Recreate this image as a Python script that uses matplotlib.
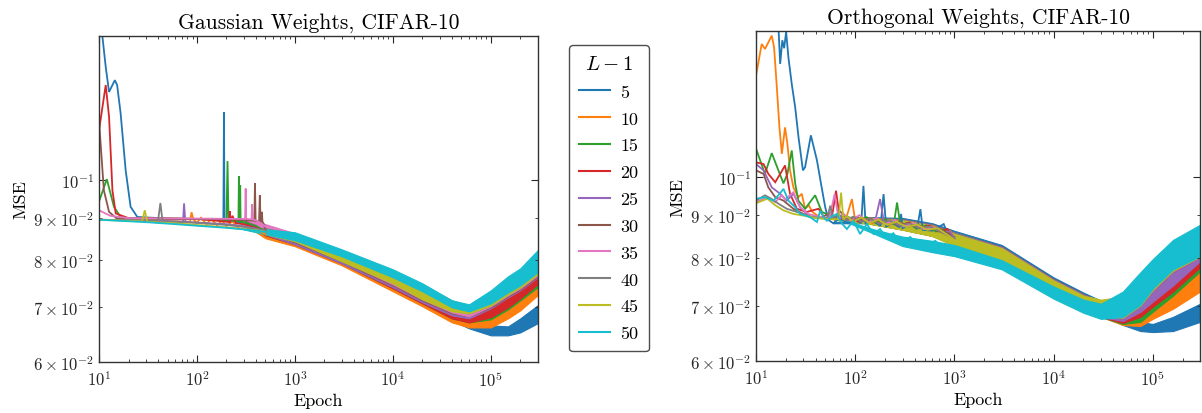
import matplotlib
matplotlib.use("Agg")
import matplotlib.pyplot as plt
from matplotlib.lines import Line2D

plt.rcParams['font.family'] = ['cmr10', 'DejaVu Serif']
plt.rcParams['mathtext.fontset'] = 'cm'
plt.rcParams['axes.formatter.use_mathtext'] = True
plt.rcParams['axes.unicode_minus'] = False

depths = [5, 10, 15, 20, 25, 30, 35, 40, 45, 50]
colors = ['#1f77b4', '#ff7f0e', '#2ca02c', '#d62728', '#9467bd',
          '#8c564b', '#e377c2', '#7f7f7f', '#bcbd22', '#17becf']

# ---------------- Gaussian weights: early (line) part, epochs 10..500 ----------------
gauss_early_ep = [
    [10, 10.8, 11.7, 12.65, 14.5, 15.3, 16.6, 18.7, 21.0, 24.6, 50, 100, 180, 186, 188.6, 191, 195, 300, 500],
    [10, 30, 60, 85, 88, 92, 100, 110, 125, 140, 160, 180, 200, 230, 260, 300, 400, 500],
    [10, 12.0, 14.2, 16.6, 20, 50, 100, 180, 200, 205, 210, 240, 265, 268, 271, 274, 276, 279, 300, 400, 500],
    [10, 11.7, 12.65, 13.7, 14.8, 20, 50, 100, 150, 200, 214, 216, 218, 230, 250, 300, 400, 500],
    [10, 30, 60, 72, 73.8, 76, 100, 200, 300, 400, 500],
    [10, 11.2, 12.65, 15, 30, 100, 200, 300, 385, 391, 397, 430, 438, 446, 455, 460, 466, 480, 500],
    [10, 13, 20, 100, 300, 310, 314, 318, 360, 366, 372, 420, 500],
    [10, 30, 40, 42.3, 44.5, 100, 200, 300, 400, 500],
    [10, 27.5, 29.3, 31, 60, 100, 200, 300, 400, 500],
    [10, 30, 60, 100, 200, 300, 400, 500],
]
gauss_early_mse = [
    [0.175, 0.150, 0.1374, 0.1281, 0.1324, 0.1306, 0.1207, 0.1028, 0.0928, 0.0902, 0.0898, 0.0897, 0.0894, 0.0894, 0.1210, 0.0893, 0.0892, 0.0888, 0.0865],
    [0.0895, 0.0893, 0.0891, 0.0890, 0.0914, 0.0895, 0.0888, 0.0900, 0.0884, 0.0897, 0.0881, 0.0893, 0.0879, 0.0891, 0.0876, 0.0884, 0.0872, 0.0859],
    [0.0942, 0.1003, 0.0928, 0.0902, 0.0899, 0.0898, 0.0897, 0.0895, 0.0894, 0.1055, 0.0893, 0.0892, 0.0892, 0.1011, 0.0891, 0.0891, 0.0986, 0.0890, 0.0889, 0.0880, 0.0865],
    [0.1151, 0.1306, 0.1195, 0.0972, 0.0911, 0.0899, 0.0898, 0.0897, 0.0893, 0.0890, 0.0889, 0.0917, 0.0889, 0.0905, 0.0886, 0.0884, 0.0875, 0.0865],
    [0.0895, 0.0893, 0.0891, 0.0890, 0.0937, 0.0890, 0.0888, 0.0884, 0.0879, 0.0873, 0.0867],
    [0.118, 0.0972, 0.0915, 0.0899, 0.0898, 0.0897, 0.0896, 0.0894, 0.0893, 0.0992, 0.0892, 0.0891, 0.0959, 0.0890, 0.0890, 0.0915, 0.0890, 0.0885, 0.0871],
    [0.0919, 0.0905, 0.0899, 0.0898, 0.0897, 0.0897, 0.0977, 0.0897, 0.0896, 0.0935, 0.0896, 0.0891, 0.0878],
    [0.0895, 0.0893, 0.0892, 0.0938, 0.0891, 0.0887, 0.0882, 0.0877, 0.0872, 0.0868],
    [0.0895, 0.0891, 0.0919, 0.0890, 0.0886, 0.0882, 0.0876, 0.0872, 0.0869, 0.0865],
    [0.0895, 0.0889, 0.0884, 0.0880, 0.0875, 0.0871, 0.0868, 0.0865],
]

# ---------------- Gaussian weights: noisy band part (lower / upper envelope) ----------------
gauss_band_ep = [300, 500, 1000, 3000, 1e4, 2e4, 4e4, 6e4, 1e5, 1.5e5, 2e5, 3e5]
gauss_band_hi = [
    [0.0888, 0.08739, 0.08545, 0.08146, 0.07658, 0.07301, 0.06922, 0.06787, 0.06654, 0.06636, 0.06787, 0.07039],
    [0.0884, 0.08690, 0.08497, 0.08100, 0.07615, 0.07281, 0.06883, 0.06787, 0.06883, 0.07079, 0.07260, 0.07551],
    [0.0889, 0.08739, 0.08545, 0.08146, 0.07680, 0.07342, 0.06961, 0.06902, 0.07039, 0.07260, 0.07425, 0.07723],
    [0.0884, 0.08739, 0.08545, 0.08146, 0.07680, 0.07342, 0.06961, 0.06902, 0.07079, 0.07301, 0.07467, 0.07766],
    [0.0879, 0.08739, 0.08569, 0.08169, 0.07701, 0.07363, 0.07020, 0.06961, 0.07220, 0.07509, 0.07680, 0.08169],
    [0.0894, 0.08788, 0.08593, 0.08192, 0.07723, 0.07405, 0.07059, 0.07000, 0.07260, 0.07551, 0.07723, 0.08169],
    [0.0897, 0.08840, 0.08617, 0.08192, 0.07723, 0.07405, 0.07059, 0.07000, 0.07240, 0.07530, 0.07701, 0.08078],
    [0.0877, 0.08739, 0.08593, 0.08192, 0.07744, 0.07467, 0.07139, 0.07039, 0.07301, 0.07594, 0.07766, 0.08146],
    [0.0872, 0.08715, 0.08617, 0.08215, 0.07766, 0.07446, 0.07119, 0.07039, 0.07301, 0.07594, 0.07766, 0.08123],
    [0.0871, 0.08715, 0.08641, 0.08238, 0.07788, 0.07488, 0.07139, 0.07059, 0.07342, 0.07637, 0.07810, 0.08215],
]
gauss_band_lo = [
    [0.0888, 0.08569, 0.08378, 0.07943, 0.07384, 0.07059, 0.06749, 0.06599, 0.06471, 0.06471, 0.06525, 0.06693],
    [0.0884, 0.08497, 0.08308, 0.07876, 0.07322, 0.07020, 0.06711, 0.06617, 0.06617, 0.06787, 0.06941, 0.07240],
    [0.0889, 0.08569, 0.08355, 0.07920, 0.07384, 0.07079, 0.06787, 0.06711, 0.06768, 0.06961, 0.07139, 0.07405],
    [0.0884, 0.08569, 0.08355, 0.07920, 0.07384, 0.07079, 0.06787, 0.06711, 0.06806, 0.07000, 0.07179, 0.07467],
    [0.0879, 0.08593, 0.08355, 0.07920, 0.07405, 0.07099, 0.06844, 0.06787, 0.06980, 0.07199, 0.07342, 0.07615],
    [0.0894, 0.08641, 0.08402, 0.07965, 0.07446, 0.07139, 0.06883, 0.06825, 0.07000, 0.07220, 0.07363, 0.07637],
    [0.0897, 0.08715, 0.08425, 0.07987, 0.07467, 0.07159, 0.06902, 0.06825, 0.07020, 0.07240, 0.07384, 0.07658],
    [0.0877, 0.08617, 0.08425, 0.08010, 0.07530, 0.07220, 0.06941, 0.06883, 0.07039, 0.07260, 0.07405, 0.07701],
    [0.0872, 0.08593, 0.08425, 0.07965, 0.07488, 0.07159, 0.06922, 0.06883, 0.07039, 0.07260, 0.07405, 0.07680],
    [0.0871, 0.08593, 0.08449, 0.08078, 0.07615, 0.07322, 0.07000, 0.06922, 0.07079, 0.07301, 0.07446, 0.07723],
]

# ---------------- Orthogonal weights: early (line) part, epochs 10..1000 ----------------
orth_early_ep = [
    [10, 15, 16.8, 17.5, 18.4, 19.2, 20.1, 21.2, 22.9, 24.8, 26.8, 29.7, 31.2, 35.7, 41.1, 45.1, 49.8, 53.8, 60, 70, 85, 100, 115, 121, 127, 150, 180, 193, 205, 240, 280, 290, 300, 360, 420, 454, 480, 600, 780, 850, 1000],
    [10, 11.4, 12.3, 14.4, 15.2, 16.2, 17.2, 18.2, 19.6, 20.7, 22.0, 23.8, 26.7, 28.9, 31.2, 34, 37, 41, 46, 55, 65, 80, 92.6, 100, 120, 150, 180, 220, 270, 330, 400, 500, 620, 760, 900, 1000],
    [10, 12.3, 14.4, 16.8, 18.9, 20.7, 22.9, 24.8, 26.7, 31.2, 39.4, 46.1, 55.9, 65, 80, 100, 130, 160, 200, 245, 264, 285, 340, 420, 520, 650, 800, 1000],
    [10, 11.9, 13.3, 15.6, 17.5, 19.6, 22.0, 25.8, 32.5, 42.6, 49.8, 58, 64, 70, 85, 110, 140, 175, 220, 280, 350, 440, 560, 700, 850, 1000],
    [10, 11.9, 14.4, 17.5, 20.4, 23.8, 27.8, 35.1, 50, 65, 80, 100, 130, 160, 178, 195, 240, 300, 380, 480, 600, 750, 900, 1000],
    [10, 11.9, 13.3, 15.6, 18.9, 23.8, 30.1, 35.1, 45, 55, 62, 70, 85, 105, 130, 170, 210, 270, 340, 430, 550, 700, 850, 1000],
    [10, 13.0, 15.6, 18.2, 19.6, 23.8, 27.8, 33.6, 45, 55, 62, 68, 75, 90, 110, 135, 165, 200, 250, 310, 390, 490, 620, 780, 1000],
    [10, 12.3, 14.4, 16.8, 20.4, 25.8, 35, 45, 52, 56, 60, 68, 80, 95, 115, 140, 175, 220, 280, 350, 440, 560, 720, 1000],
    [10, 13.0, 15.6, 18.9, 23.8, 30, 40, 55, 68, 72, 76, 82, 95, 115, 140, 170, 210, 260, 330, 420, 530, 680, 850, 1000],
    [10, 12.3, 15.0, 16.8, 18.9, 21.2, 24.8, 27.8, 35.1, 41.1, 44.3, 48, 51.8, 58, 65.4, 73, 82.4, 96.1, 112, 131, 153, 178, 210, 242, 284, 358, 454, 642, 810, 1000],
]
orth_early_mse = [
    [0.200, 0.175, 0.152, 0.1369, 0.1462, 0.1430, 0.1497, 0.1394, 0.1295, 0.1214, 0.1117, 0.1019, 0.1028, 0.1123, 0.1048, 0.0983, 0.0920, 0.0888, 0.0880, 0.0893, 0.0880, 0.0888, 0.0880, 0.0976, 0.0880, 0.0885, 0.0874, 0.0954, 0.0872, 0.0880, 0.0870, 0.0903, 0.0868, 0.0878, 0.0866, 0.0915, 0.0864, 0.0862, 0.0878, 0.0856, 0.0847],
    [0.1326, 0.1447, 0.1427, 0.1481, 0.1433, 0.1283, 0.1148, 0.1067, 0.1148, 0.1097, 0.1019, 0.0972, 0.0946, 0.0955, 0.0916, 0.0925, 0.0908, 0.0900, 0.0893, 0.0892, 0.0896, 0.0888, 0.0941, 0.0885, 0.0893, 0.0880, 0.0890, 0.0876, 0.0886, 0.0872, 0.0880, 0.0866, 0.0872, 0.0856, 0.0862, 0.0843],
    [0.1082, 0.1009, 0.1069, 0.1019, 0.0983, 0.1009, 0.1077, 0.0983, 0.0937, 0.0916, 0.0951, 0.0908, 0.0899, 0.0892, 0.0898, 0.0888, 0.0895, 0.0882, 0.0890, 0.0878, 0.0932, 0.0876, 0.0880, 0.0868, 0.0874, 0.0860, 0.0865, 0.0843],
    [0.1042, 0.1037, 0.1009, 0.0986, 0.1009, 0.1033, 0.0955, 0.0916, 0.0908, 0.0916, 0.0891, 0.0892, 0.0963, 0.0890, 0.0894, 0.0884, 0.0892, 0.0880, 0.0886, 0.0874, 0.0882, 0.0868, 0.0874, 0.0860, 0.0866, 0.0843],
    [0.1037, 0.1019, 0.0972, 0.0955, 0.0937, 0.0955, 0.0920, 0.0895, 0.0893, 0.0897, 0.0889, 0.0894, 0.0884, 0.0889, 0.0941, 0.0882, 0.0884, 0.0874, 0.0878, 0.0867, 0.0870, 0.0858, 0.0860, 0.0843],
    [0.1019, 0.1009, 0.0972, 0.0946, 0.0937, 0.0916, 0.0903, 0.0895, 0.0893, 0.0905, 0.0890, 0.0910, 0.0888, 0.0895, 0.0884, 0.0890, 0.0878, 0.0884, 0.0872, 0.0876, 0.0864, 0.0868, 0.0856, 0.0843],
    [0.0933, 0.0946, 0.0933, 0.0951, 0.0940, 0.0959, 0.0920, 0.0903, 0.0895, 0.0893, 0.0954, 0.0890, 0.0905, 0.0886, 0.0900, 0.0882, 0.0893, 0.0878, 0.0888, 0.0872, 0.0880, 0.0866, 0.0870, 0.0856, 0.0843],
    [0.0937, 0.0951, 0.0941, 0.0929, 0.0916, 0.0908, 0.0897, 0.0892, 0.0891, 0.0924, 0.0890, 0.0902, 0.0887, 0.0896, 0.0883, 0.0892, 0.0879, 0.0887, 0.0874, 0.0880, 0.0868, 0.0872, 0.0860, 0.0843],
    [0.0930, 0.0942, 0.0925, 0.0912, 0.0903, 0.0899, 0.0893, 0.0890, 0.0890, 0.0958, 0.0889, 0.0898, 0.0884, 0.0894, 0.0880, 0.0889, 0.0876, 0.0884, 0.0871, 0.0877, 0.0864, 0.0868, 0.0852, 0.0840],
    [0.0942, 0.0946, 0.0937, 0.0951, 0.0968, 0.0937, 0.0920, 0.0903, 0.0895, 0.0883, 0.0911, 0.0895, 0.0886, 0.0897, 0.0903, 0.0880, 0.0866, 0.0886, 0.0854, 0.0878, 0.0854, 0.0866, 0.0843, 0.0856, 0.0833, 0.0847, 0.0824, 0.0838, 0.0815, 0.0816],
]

# ---------------- Orthogonal weights: noisy band part ----------------
orth_band_ep = [60, 150, 300, 600, 1000, 3000, 1e4, 2e4, 3e4, 5e4, 7.5e4, 1e5, 1.6e5, 3e5]
orth_band_hi = [
    [0.0882, 0.0895, 0.0893, 0.0880, 0.08617, 0.08285, 0.07573, 0.07260, 0.07099, 0.06883, 0.06693, 0.06654, 0.06787, 0.07039],
    [0.0893, 0.0893, 0.0889, 0.0876, 0.08569, 0.08238, 0.07530, 0.07220, 0.07079, 0.06883, 0.06980, 0.07179, 0.07509, 0.08010],
    [0.0893, 0.0893, 0.0889, 0.0876, 0.08569, 0.08238, 0.07530, 0.07220, 0.07079, 0.06941, 0.07139, 0.07384, 0.07701, 0.08192],
    [0.0893, 0.0893, 0.0889, 0.0876, 0.08569, 0.08238, 0.07530, 0.07220, 0.07079, 0.06980, 0.07281, 0.07551, 0.07854, 0.08308],
    [0.0893, 0.0893, 0.0889, 0.0876, 0.08569, 0.08238, 0.07530, 0.07220, 0.07079, 0.07059, 0.07446, 0.07637, 0.08010, 0.08425],
    [0.0893, 0.0893, 0.0888, 0.0875, 0.08569, 0.08215, 0.07509, 0.07199, 0.07059, 0.07059, 0.07467, 0.07701, 0.08078, 0.08473],
    [0.0893, 0.0893, 0.0888, 0.0875, 0.08569, 0.08215, 0.07509, 0.07199, 0.07059, 0.07079, 0.07488, 0.07744, 0.08123, 0.08521],
    [0.0893, 0.0893, 0.0888, 0.0875, 0.08569, 0.08215, 0.07509, 0.07199, 0.07079, 0.07099, 0.07509, 0.07788, 0.08192, 0.08617],
    [0.0891, 0.0892, 0.0887, 0.0874, 0.08545, 0.08215, 0.07509, 0.07199, 0.07119, 0.07179, 0.07573, 0.07876, 0.08285, 0.08715],
    [0.0897, 0.0866, 0.0848, 0.0838, 0.08285, 0.07943, 0.07384, 0.07119, 0.07039, 0.07281, 0.07680, 0.07965, 0.08402, 0.08764],
]
orth_band_lo = [
    [0.0880, 0.0880, 0.0868, 0.0854, 0.08331, 0.08010, 0.07322, 0.07020, 0.06825, 0.06636, 0.06525, 0.06507, 0.06525, 0.06693],
    [0.0891, 0.0878, 0.0865, 0.0850, 0.08285, 0.07965, 0.07260, 0.06980, 0.06787, 0.06636, 0.06617, 0.06749, 0.06941, 0.07281],
    [0.0891, 0.0878, 0.0865, 0.0850, 0.08285, 0.07965, 0.07281, 0.07000, 0.06787, 0.06654, 0.06693, 0.06883, 0.07199, 0.07701],
    [0.0891, 0.0878, 0.0865, 0.0850, 0.08285, 0.07965, 0.07281, 0.07000, 0.06787, 0.06674, 0.06787, 0.06980, 0.07281, 0.07788],
    [0.0891, 0.0878, 0.0865, 0.0850, 0.08285, 0.07965, 0.07281, 0.07000, 0.06787, 0.06711, 0.06883, 0.07079, 0.07405, 0.07920],
    [0.0891, 0.0878, 0.0865, 0.0850, 0.08285, 0.07943, 0.07260, 0.06980, 0.06787, 0.06760, 0.06990, 0.07290, 0.07690, 0.08010],
    [0.0891, 0.0878, 0.0865, 0.0850, 0.08285, 0.07943, 0.07260, 0.06980, 0.06787, 0.06765, 0.06995, 0.07300, 0.07700, 0.08015],
    [0.0891, 0.0878, 0.0865, 0.0850, 0.08285, 0.07943, 0.07260, 0.06980, 0.06787, 0.06770, 0.07000, 0.07310, 0.07710, 0.08020],
    [0.0889, 0.0877, 0.0864, 0.0849, 0.08261, 0.07920, 0.07240, 0.06980, 0.06806, 0.06775, 0.07010, 0.07320, 0.07720, 0.08025],
    [0.0897, 0.0856, 0.0826, 0.0812, 0.08032, 0.07744, 0.07139, 0.06864, 0.06749, 0.06787, 0.07020, 0.07342, 0.07744, 0.08032],
]

titles = ['Gaussian Weights, CIFAR-10', 'Orthogonal Weights, CIFAR-10']

fig = plt.figure(figsize=(12.02, 4.14), dpi=100)
ax1 = fig.add_axes([0.0824, 0.1225, 0.3648, 0.7889])
ax2 = fig.add_axes([0.6290, 0.1249, 0.3694, 0.7978])

panels = [
    (ax1, gauss_early_ep, gauss_early_mse, gauss_band_ep, gauss_band_lo, gauss_band_hi),
    (ax2, orth_early_ep, orth_early_mse, orth_band_ep, orth_band_lo, orth_band_hi),
]

for k, (ax, eep, emse, bep, blo, bhi) in enumerate(panels):
    for i, c in enumerate(colors):
        ax.fill_between(bep, blo[i], bhi[i], color=c, lw=0.8, edgecolor=c)
        ax.plot(eep[i], emse[i], color=c, lw=1.3, solid_joinstyle='miter')
    ax.set_xscale('log')
    ax.set_yscale('log')
    ax.set_xlim(10, 3e5)
    ax.set_ylim(0.06, 0.15)
    ax.set_xlabel('Epoch', fontsize=13, labelpad=3)
    ax.set_ylabel('MSE', fontsize=13, labelpad=4)
    ax.set_title(titles[k], fontsize=15.5, pad=6)
    ax.tick_params(which='both', direction='in', top=True, right=True,
                   labelsize=12, colors='0.15')
    ax.tick_params(which='major', length=5, width=0.8)
    ax.tick_params(which='minor', length=2.5, width=0.6)
    ax.tick_params(axis='x', which='both', pad=5)
    for sp in ax.spines.values():
        sp.set_color('0.2')
        sp.set_linewidth(1.0)

handles = [Line2D([0], [0], color=c, lw=1.5) for c in colors]
leg = fig.legend(handles, [str(d) for d in depths], title=r'$L-1$',
                 loc='upper left', bbox_to_anchor=(569 / 1202, 1 - 46 / 414),
                 borderaxespad=0.0,
                 fontsize=13, title_fontsize=15, handlelength=1.7,
                 handletextpad=0.6, labelspacing=0.62, borderpad=0.55,
                 frameon=True, fancybox=True, framealpha=1)
leg.get_frame().set_edgecolor('0.3')
leg.get_frame().set_linewidth(1.0)

fig.savefig('out.png', dpi=100)
